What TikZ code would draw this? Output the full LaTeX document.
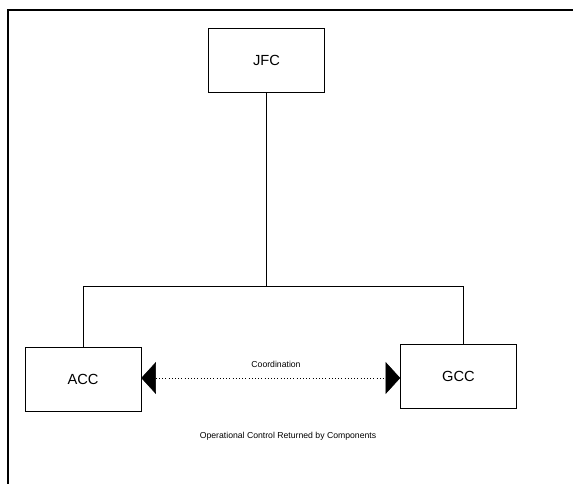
\documentclass[tikz,border=0pt]{standalone}
\usepackage{fontspec}
\setmainfont{Liberation Sans}
\usetikzlibrary{arrows.meta}
\tikzset{cmdbox/.style={draw,minimum width=87pt,minimum height=48pt,font=\fontsize{11}{13}\selectfont}}
\begin{document}
\begin{tikzpicture}[x=0.75pt,y=-0.75pt]
                \useasboundingbox (0,0) rectangle (573,484);
                \draw[line width=1.5pt] (8,484) -- (8,10) -- (573,10);
                \node[cmdbox] (jfc) at (266.5,60) {JFC};
                \node[cmdbox] (acc) at (83,379) {ACC};
                \node[cmdbox] (gcc) at (458.5,376.5) {GCC};
                \coordinate (split) at (266.5,286);
                \draw (jfc.south) -- (split);
                \draw (split) -| (acc.north);
                \draw (split) -| ([xshift=3.4pt]gcc.north);
                \draw[dotted,{Triangle[length=11pt,width=24pt]}-{Triangle[length=11pt,width=24pt]}] (acc.east |- 0,378) -- (gcc.west |- 0,378);
                \node[font=\fontsize{6.5}{8}\selectfont] (coord) at (276,364) {Coordination};
                \node[font=\fontsize{6.5}{8}\selectfont] (opcon) at (288,436) {Operational Control Returned by Components};
            \end{tikzpicture}
\end{document}
